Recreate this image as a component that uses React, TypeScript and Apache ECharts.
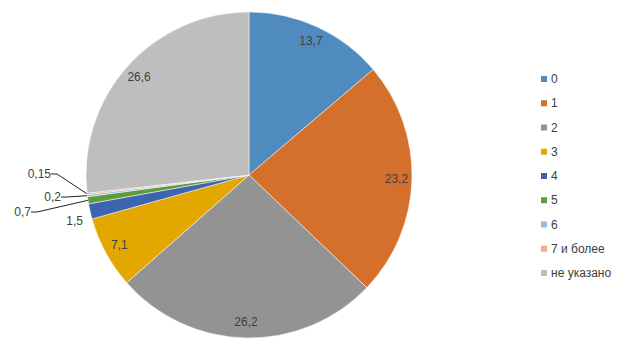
import React, { useEffect, useRef } from "react";
import * as echarts from "echarts";

const categories = ["0", "1", "2", "3", "4", "5", "6", "7 и более", "не указано"];
const values = [13.7, 23.2, 26.2, 7.1, 1.5, 0.7, 0.2, 0.15, 26.6];
const colors = ["#4F8BBE", "#D46F2C", "#939393", "#E3A800", "#3D64AE", "#5F9B3C", "#96BAE2", "#F4A98A", "#BEBEBE"];
const smallThreshold = 2;

// positions (right edge x, centre y) of the outside labels of the thin slices
const smallLabelLayout: Record<number, { x: number; y: number }> = {
  4: { x: 83, y: 221 },
  5: { x: 31, y: 212 },
  6: { x: 61, y: 197 },
  7: { x: 51, y: 174 },
};

const fmt = (v: number) => String(v).replace(".", ",");
const FONT = "'Liberation Sans', Arial, sans-serif";

export default function App() {
  const ref = useRef<HTMLDivElement>(null);
  useEffect(() => {
    const chart = echarts.init(ref.current!, null, { renderer: "svg" });
    const mainData = categories.map((c, i) => ({
      name: c,
      value: values[i],
      itemStyle: { color: colors[i] },
      label: { show: values[i] < smallThreshold },
      labelLine: { show: values[i] < smallThreshold && values[i] < 1 },
    }));
    const overlayData = categories.map((c, i) => ({
      name: c,
      value: values[i],
      label: { show: values[i] >= smallThreshold },
    }));
    chart.setOption({
      animation: false,
      color: colors,
      legend: {
        orient: "vertical",
        left: 534,
        top: 68,
        itemWidth: 8,
        itemHeight: 8,
        itemGap: 12.25,
        icon: "rect",
        data: categories,
        textStyle: { fontFamily: FONT, fontSize: 12, color: "#404040", lineHeight: 12, padding: [0, 0, 0, -2] },
      },
      series: [
        {
          type: "pie",
          center: [249, 175],
          radius: [0, 163],
          startAngle: 90,
          clockwise: true,
          silent: true,
          avoidLabelOverlap: true,
          itemStyle: { borderColor: "#fff", borderWidth: 0.5 },
          label: {
            position: "outside",
            formatter: (p: any) => fmt(p.value),
            fontFamily: FONT,
            fontSize: 12,
            color: "#404040",
          },
          labelLine: { length: 14, length2: 6, lineStyle: { color: "#222", width: 1 } },
          labelLayout: (p: any) => {
            const pos = smallLabelLayout[p.dataIndex];
            if (!pos) return {};
            return { x: pos.x, y: pos.y, align: "right", verticalAlign: "middle" };
          },
          data: mainData,
        },
        {
          type: "pie",
          center: [249, 175],
          radius: [126, 163],
          startAngle: 90,
          clockwise: true,
          silent: true,
          itemStyle: { color: "transparent", borderWidth: 0 },
          label: {
            position: "inside",
            formatter: (p: any) => fmt(p.value),
            fontFamily: FONT,
            fontSize: 12,
            color: "#404040",
          },
          labelLine: { show: false },
          data: overlayData,
        },
      ],
    });
    return () => chart.dispose();
  }, []);
  return <div ref={ref} style={{ position: "absolute", left: 0, top: 0, width: 620, height: 352 }} />;
}
